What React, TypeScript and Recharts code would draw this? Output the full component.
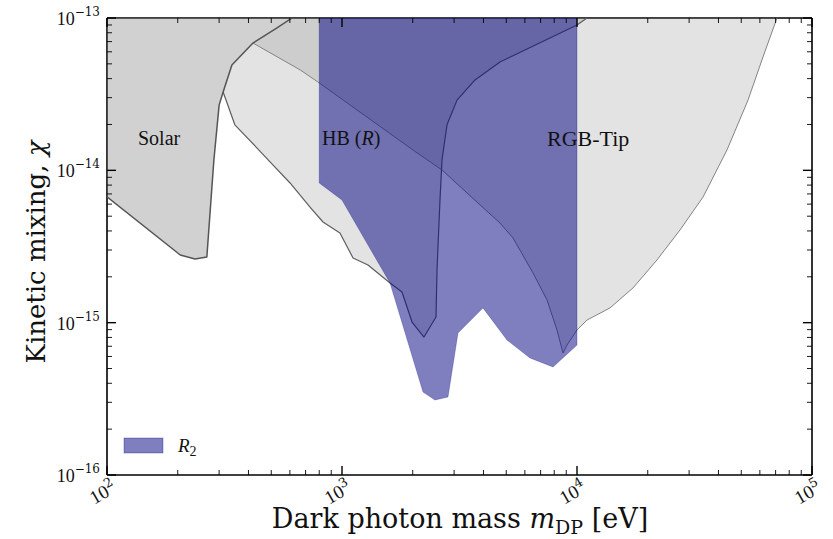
import * as React from "react"
import { ScatterChart, Scatter, XAxis, YAxis } from "recharts"

// Solar bound (dark gray, upper left)
const solarMass = [100, 205, 237, 266, 285, 300, 312, 340, 418, 529, 613, 100]
const solarChi = [6.7e-15, 2.78e-15, 2.62e-15, 2.7e-15, 1.17e-14, 2.68e-14, 3.27e-14, 4.91e-14, 6.85e-14, 8.6e-14, 1e-13, 1e-13]

// HB (R) bound, gray V shape
const hbMass = [613, 529, 418, 340, 312, 350, 435, 494, 601, 731, 830, 980, 1114, 1290, 1601, 1800, 1986, 2233, 2512, 2537, 2612, 2664, 2798, 3086, 3681, 4701, 10000, 11030]
const hbChi = [1e-13, 8.6e-14, 6.85e-14, 4.91e-14, 3.27e-14, 1.99e-14, 1.4e-14, 1.135e-14, 8.26e-15, 5.74e-15, 4.58e-15, 3.88e-15, 2.66e-15, 2.39e-15, 1.82e-15, 1.59e-15, 1.01e-15, 8.05e-16, 1.09e-15, 2.22e-15, 6.38e-15, 1.17e-14, 1.99e-14, 2.89e-14, 3.92e-14, 5.14e-14, 9.0e-14, 1e-13]

// RGB-Tip bound, gray V shape
const rgbMass = [613, 529, 418, 664, 790, 2005, 2664, 3791, 4701, 5342, 6498, 7454, 8220, 8718, 9067, 10000, 11030, 13820, 17310, 21900, 27440, 34380, 43480, 53430, 61880, 70960]
const rgbChi = [1e-13, 8.6e-14, 6.85e-14, 4.56e-14, 3.8e-14, 1.36e-14, 1.005e-14, 6.1e-15, 4.51e-15, 3.6e-15, 2.12e-15, 1.41e-15, 8.95e-16, 6.32e-16, 7.13e-16, 8.95e-16, 1.04e-15, 1.25e-15, 1.69e-15, 2.58e-15, 4.06e-15, 6.68e-15, 1.36e-14, 2.89e-14, 5.55e-14, 1e-13]

// R2 bound (blue)
const r2Mass = [800, 800, 1000, 1601, 2212, 2487, 2825, 3116, 3981, 5036, 6310, 7907, 10000, 10000]
const r2Chi = [1e-13, 8.26e-15, 6.38e-15, 1.82e-15, 3.5e-16, 3.11e-16, 3.25e-16, 8.55e-16, 1.25e-15, 7.69e-16, 5.86e-16, 5.12e-16, 7.13e-16, 1e-13]

const massTicks = [100, 200, 300, 400, 500, 600, 700, 800, 900, 1000, 2000, 3000, 4000, 5000, 6000, 7000, 8000, 9000, 10000, 20000, 30000, 40000, 50000, 60000, 70000, 80000, 90000, 100000]
const chiTicks = [1e-16, 2e-16, 3e-16, 4e-16, 5e-16, 6e-16, 7e-16, 8e-16, 9e-16, 1e-15, 2e-15, 3e-15, 4e-15, 5e-15, 6e-15, 7e-15, 8e-15, 9e-15, 1e-14, 2e-14, 3e-14, 4e-14, 5e-14, 6e-14, 7e-14, 8e-14, 9e-14, 1e-13]

const toPoints = (xs: number[], ys: number[]) => xs.map((x, i) => ({ x, y: ys[i] }))

const SERIF = "'Liberation Serif', serif"
const SERIF_WIDE = "'DejaVu Serif', serif"

const isMajor = (v: number) => Math.abs(Math.log10(v) - Math.round(Math.log10(v))) < 1e-6
const expOf = (v: number) => {
  const e = Math.round(Math.log10(v))
  return e < 0 ? `\u2212${-e}` : `${e}`
}

const pathOf = (pts: { x: number; y: number }[]) =>
  pts.map((p, i) => `${i ? "L" : "M"}${p.x},${p.y}`).join("")

const region = (fill: string, opacity: number, stroke: string, strokeWidth: number, from: number, to?: number, strokeOpacity = 1) =>
  (props: any) => {
    const pts = props.points as { x: number; y: number }[]
    return (
      <g>
        <path d={pathOf(pts) + "Z"} fill={fill} fillOpacity={opacity} stroke="none" />
        <path d={pathOf(pts.slice(from, to))} fill="none" stroke={stroke} strokeWidth={strokeWidth} strokeOpacity={strokeOpacity} strokeLinejoin="round" />
      </g>
    )
  }

const noDot = () => <g />

const BottomTick = ({ x, y, payload }: any) => {
  const major = isMajor(payload.value)
  return (
    <g>
      <line x1={x} x2={x} y1={y} y2={y - (major ? 9 : 5)} stroke="#000" strokeWidth={major ? 1.4 : 0.9} />
      {major && (
        <text transform={`translate(${x - 1},${y + 23}) rotate(-30)`} textAnchor="middle" fontFamily={SERIF} fontSize={19} fill="#111">
          10<tspan dy={-8} fontSize={13} fontFamily={SERIF_WIDE}>{expOf(payload.value)}</tspan>
        </text>
      )}
    </g>
  )
}

const TopTick = ({ x, y, payload }: any) => {
  const major = isMajor(payload.value)
  return <line x1={x} x2={x} y1={y} y2={y + (major ? 9 : 5)} stroke="#000" strokeWidth={major ? 1.4 : 0.9} />
}

const LeftTick = ({ x, y, payload }: any) => {
  const major = isMajor(payload.value)
  return (
    <g>
      <line x1={x} x2={x + (major ? 9 : 5)} y1={y} y2={y} stroke="#000" strokeWidth={major ? 1.4 : 0.9} />
      {major && (
        <text x={x - 7} y={y + 7} textAnchor="end" fontFamily={SERIF} fontSize={18} fill="#111">
          10<tspan dy={-9} fontSize={12} fontFamily={SERIF_WIDE}>{expOf(payload.value)}</tspan>
        </text>
      )}
    </g>
  )
}

const RightTick = ({ x, y, payload }: any) => {
  const major = isMajor(payload.value)
  return <line x1={x} x2={x - (major ? 9 : 5)} y1={y} y2={y} stroke="#000" strokeWidth={major ? 1.4 : 0.9} />
}

const axisLine = { stroke: "#000", strokeWidth: 1.6 }

export default function App() {
  return (
    <div style={{ position: "absolute", left: 0, top: 0, width: 833, height: 539, background: "#fff" }}>
      <ScatterChart width={833} height={539} margin={{ top: 17, right: 20, bottom: 63, left: 106 }}>
        <Scatter xAxisId="b" yAxisId="l" data={toPoints(rgbMass, rgbChi)} isAnimationActive={false}
          shape={noDot} line={region("#808080", 0.22, "#777", 0.9, 2)} />
        <Scatter xAxisId="b" yAxisId="l" data={toPoints(hbMass, hbChi)} isAnimationActive={false}
          shape={noDot} line={region("#808080", 0.22, "#5e5e5e", 1.2, 4)} />
        <Scatter xAxisId="b" yAxisId="l" data={toPoints(solarMass, solarChi)} isAnimationActive={false}
          shape={noDot} line={region("#808080", 0.36, "#555", 1.5, 0, 11)} />
        <Scatter xAxisId="b" yAxisId="l" data={toPoints(r2Mass, r2Chi)} isAnimationActive={false}
          shape={noDot} line={region("#000080", 0.5, "#000080", 1, 0, undefined, 0.25)} />

        <XAxis xAxisId="b" type="number" dataKey="x" scale="log" domain={[100, 100000]} allowDataOverflow
          ticks={massTicks} interval={0} height={1} tickSize={0} tickMargin={0} tickLine={false}
          axisLine={axisLine} tick={<BottomTick />} orientation="bottom" />
        <XAxis xAxisId="t" type="number" dataKey="x" scale="log" domain={[100, 100000]} allowDataOverflow
          ticks={massTicks} interval={0} height={1} tickSize={0} tickMargin={0} tickLine={false}
          axisLine={axisLine} tick={<TopTick />} orientation="top" />
        <YAxis yAxisId="l" type="number" dataKey="y" scale="log" domain={[1e-16, 1e-13]} allowDataOverflow
          ticks={chiTicks} interval={0} width={1} tickSize={0} tickMargin={0} tickLine={false}
          axisLine={axisLine} tick={<LeftTick />} orientation="left" />
        <YAxis yAxisId="r" type="number" dataKey="y" scale="log" domain={[1e-16, 1e-13]} allowDataOverflow
          ticks={chiTicks} interval={0} width={1} tickSize={0} tickMargin={0} tickLine={false}
          axisLine={axisLine} tick={<RightTick />} orientation="right" />
      </ScatterChart>

      <svg width={833} height={539} style={{ position: "absolute", left: 0, top: 0, pointerEvents: "none" }}>
        <text x={138} y={145} fontFamily={SERIF} fontSize={20} fill="#111">Solar</text>
        <text x={322} y={145} fontFamily={SERIF} fontSize={20} fill="#111">
          HB (<tspan fontStyle="italic">R</tspan>)
        </text>
        <text x={547} y={146} fontFamily={SERIF} fontSize={22} fill="#111">RGB-Tip</text>

        <rect x={124} y={438} width={39} height={15} fill="#000080" fillOpacity={0.5} stroke="#000080" strokeOpacity={0.3} strokeWidth={1} />
        <text x={178} y={452} fontFamily={SERIF} fontSize={19} fill="#111">
          <tspan fontStyle="italic">R</tspan>
          <tspan dy={4} fontSize={14}>2</tspan>
        </text>

        <text x={460} y={528} textAnchor="middle" fontFamily={SERIF_WIDE} fontSize={27} fill="#111">
          Dark photon mass <tspan fontStyle="italic">m</tspan>
          <tspan dy={6} fontSize={19}>DP</tspan>
          <tspan dy={-6}> [eV]</tspan>
        </text>
        <text transform="translate(45,252) rotate(-90)" textAnchor="middle" fontFamily={SERIF_WIDE} fontSize={26} fill="#111">
          Kinetic mixing, <tspan fontStyle="italic">χ</tspan>
        </text>
      </svg>
    </div>
  )
}
